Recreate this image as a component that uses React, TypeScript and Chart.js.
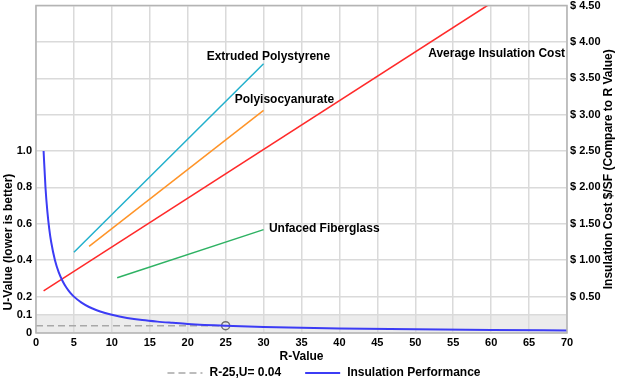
import React, { useEffect, useRef } from "react";
import { Chart, registerables } from "chart.js";

Chart.register(...registerables);

// ---------- data ----------
const perfR = [1, 1.25, 1.5, 1.75, 2, 2.5, 3, 3.5, 4, 4.5, 5, 6, 7, 8, 9, 10, 12, 14, 16, 18, 20, 25, 30, 35, 40, 50, 60, 70];
const perfU = [1.0, 0.8, 0.667, 0.571, 0.5, 0.4, 0.333, 0.286, 0.25, 0.222, 0.2, 0.167, 0.143, 0.125, 0.111, 0.1, 0.083, 0.071, 0.0625, 0.056, 0.05, 0.04, 0.033, 0.029, 0.025, 0.02, 0.0167, 0.0143];

const refR = [0, 25];
const refU = [0.04, 0.04];

const avgR = [1, 59.5];
const avgCost = [0.58, 4.5];

const xpsR = [5, 30];
const xpsCost = [1.11, 3.7];

const isoR = [7, 30];
const isoCost = [1.19, 3.06];

const fgR = [10.7, 30];
const fgCost = [0.76, 1.42];

const xTickStep = 5;
const xMin = 0;
const xMax = 70;

const uLabelTicks = [0, 0.1, 0.2, 0.4, 0.6, 0.8, 1.0];
const uGridOnlyTicks = [1.2, 1.4, 1.6, 1.8];
const uMax = 1.8;

const costTicks = [0.5, 1.0, 1.5, 2.0, 2.5, 3.0, 3.5, 4.0, 4.5];
const costMax = 4.5;

const bandU = [0, 0.1];

const names = {
  perf: "Insulation Performance",
  ref: "R-25,U= 0.04",
  avg: "Average Insulation Cost",
  xps: "Extruded Polystyrene",
  iso: "Polyisocyanurate",
  fg: "Unfaced Fiberglass",
};

const xTitle = "R-Value";
const yLeftTitle = "U-Value (lower is better)";
const yRightTitle = "Insulation Cost $/SF (Compare to R Value)";

// annotation anchors in data units (R, cost)
const annotationR = [22.5, 26.2, 51.7, 30.7];
const annotationCost = [3.8, 3.2, 3.84, 1.44];
const annotationText = [names.xps, names.iso, names.avg, names.fg];

// ---------- styles ----------
const FONT = '"Liberation Sans", Arial, sans-serif';
const BOLD12 = { family: FONT, size: 12, weight: "bold" as const };
const BOLD11 = { family: FONT, size: 11, weight: "bold" as const };
const GRID = "#dadada";

const zip = (xs: number[], ys: number[]) => xs.map((x, i) => ({ x, y: ys[i] }));

const overlayPlugin = {
  id: "overlay",
  beforeDraw(chart: any) {
    const { ctx, chartArea, scales } = chart;
    ctx.save();
    ctx.fillStyle = "#ffffff";
    ctx.fillRect(0, 0, chart.width, chart.height);
    const yTop = scales.y.getPixelForValue(bandU[1]);
    const yBot = scales.y.getPixelForValue(bandU[0]);
    ctx.fillStyle = "#ececec";
    ctx.fillRect(chartArea.left, yTop, chartArea.right - chartArea.left, yBot - yTop);
    ctx.restore();
  },
  afterDatasetsDraw(chart: any) {
    const { ctx, chartArea, scales } = chart;
    ctx.save();
    ctx.strokeStyle = "#b4b4b4";
    ctx.lineWidth = 1.5;
    ctx.strokeRect(chartArea.left, chartArea.top, chartArea.right - chartArea.left, chartArea.bottom - chartArea.top);
    ctx.fillStyle = "#000";
    ctx.font = `bold 12px ${FONT}`;
    ctx.textAlign = "left";
    ctx.textBaseline = "middle";
    annotationText.forEach((t, i) => {
      ctx.fillText(t, scales.x.getPixelForValue(annotationR[i]), scales.y1.getPixelForValue(annotationCost[i]));
    });
    ctx.restore();
  },
  afterDraw(chart: any) {
    const { ctx, chartArea, scales } = chart;
    ctx.save();
    ctx.fillStyle = "#000";
    ctx.font = `bold 12px ${FONT}`;
    ctx.textAlign = "center";
    ctx.textBaseline = "middle";
    // left title
    ctx.save();
    ctx.translate(9, scales.y.getPixelForValue(0.5));
    ctx.rotate(-Math.PI / 2);
    ctx.fillText(yLeftTitle, 0, 0);
    ctx.restore();
    // right title
    ctx.save();
    ctx.translate(chart.width - 11, (chartArea.top + chartArea.bottom) / 2);
    ctx.rotate(-Math.PI / 2);
    ctx.fillText(yRightTitle, 0, 0);
    ctx.restore();

    // legend
    const items = [chart.data.datasets[1], chart.data.datasets[0]];
    const sampleW = 35;
    const gap = 7;
    const itemGap = 24;
    const widths = items.map((d: any) => sampleW + gap + ctx.measureText(d.label).width);
    const total = widths.reduce((a: number, b: number) => a + b, 0) + itemGap * (items.length - 1);
    let x = chart.width / 2 + 14 - total / 2;
    const y = chart.height - 14;
    ctx.textAlign = "left";
    items.forEach((d: any, i: number) => {
      ctx.save();
      ctx.strokeStyle = d.borderColor;
      ctx.lineWidth = d.borderWidth;
      ctx.setLineDash(d.borderDash || []);
      ctx.beginPath();
      ctx.moveTo(x, y);
      ctx.lineTo(x + sampleW, y);
      ctx.stroke();
      ctx.restore();
      ctx.fillText(d.label, x + sampleW + gap, y);
      x += widths[i] + itemGap;
    });
    ctx.restore();
  },
};

export default function App() {
  const ref = useRef<HTMLCanvasElement | null>(null);

  useEffect(() => {
    document.body.style.margin = "0";
    document.body.style.overflow = "hidden";
    const canvas = ref.current!;
    const chart = new Chart(canvas, {
      type: "line",
      data: {
        datasets: [
          {
            label: names.perf,
            data: zip(perfR, perfU),
            yAxisID: "y",
            borderColor: "#3c3cf5",
            borderWidth: 2,
            pointRadius: 0,
            cubicInterpolationMode: "monotone",
            fill: false,
          },
          {
            label: names.ref,
            data: zip(refR, refU),
            yAxisID: "y",
            borderColor: "#a8a8a8",
            borderWidth: 1.5,
            borderDash: [7, 4],
            pointRadius: [0, 4],
            pointBorderColor: "#707070",
            pointBackgroundColor: "rgba(255,255,255,0.2)",
            pointBorderWidth: 1.5,
            fill: false,
          },
          {
            label: names.avg,
            data: zip(avgR, avgCost),
            yAxisID: "y1",
            borderColor: "#ff2a2a",
            borderWidth: 1.5,
            pointRadius: 0,
            fill: false,
          },
          {
            label: names.xps,
            data: zip(xpsR, xpsCost),
            yAxisID: "y1",
            borderColor: "#22b0cc",
            borderWidth: 1.5,
            pointRadius: 0,
            fill: false,
          },
          {
            label: names.iso,
            data: zip(isoR, isoCost),
            yAxisID: "y1",
            borderColor: "#ff9428",
            borderWidth: 1.5,
            pointRadius: 0,
            fill: false,
          },
          {
            label: names.fg,
            data: zip(fgR, fgCost),
            yAxisID: "y1",
            borderColor: "#2eb263",
            borderWidth: 1.5,
            pointRadius: 0,
            fill: false,
          },
        ] as any,
      },
      options: {
        animation: false,
        responsive: false,
        devicePixelRatio: 1,
        layout: { padding: { top: 5, bottom: 23, left: 0, right: 0 } },
        plugins: {
          legend: { display: false },
          tooltip: { enabled: false },
        },
        scales: {
          x: {
            type: "linear",
            min: xMin,
            max: xMax,
            border: { display: false },
            grid: { color: GRID, lineWidth: 1.5, drawTicks: false },
            ticks: {
              stepSize: xTickStep,
              autoSkip: false,
              maxRotation: 0,
              padding: 3,
              color: "#000",
              font: BOLD11,
            },
            title: {
              display: true,
              text: xTitle,
              color: "#000",
              font: BOLD12,
              padding: { top: 0, bottom: 0 },
            },
            afterFit: (s: any) => {
              s.height = 31;
              s.paddingLeft = 0;
              s.paddingRight = 0;
            },
          },
          y: {
            type: "linear",
            position: "left",
            min: 0,
            max: uMax,
            border: { display: false },
            grid: { color: GRID, lineWidth: 1.5, drawTicks: false },
            afterBuildTicks: (s: any) => {
              s.ticks = [...uLabelTicks, ...uGridOnlyTicks].map((v) => ({ value: v }));
            },
            ticks: {
              autoSkip: false,
              padding: 4,
              color: "#000",
              font: BOLD11,
              callback: (v: any) => {
                const n = Number(v);
                if (!uLabelTicks.includes(n)) return "";
                return n === 0 ? "0" : n.toFixed(1);
              },
            },
            afterFit: (s: any) => {
              s.width = 36;
              s.paddingTop = 0;
              s.paddingBottom = 0;
            },
          },
          y1: {
            type: "linear",
            position: "right",
            min: 0,
            max: costMax,
            border: { display: false },
            grid: { display: false, drawTicks: false },
            afterBuildTicks: (s: any) => {
              s.ticks = costTicks.map((v) => ({ value: v }));
            },
            ticks: {
              autoSkip: false,
              padding: 3,
              color: "#000",
              font: BOLD11,
              callback: (v: any) => "$ " + Number(v).toFixed(2),
            },
            afterFit: (s: any) => {
              s.width = 53;
              s.paddingTop = 0;
              s.paddingBottom = 0;
            },
          },
        },
      } as any,
      plugins: [overlayPlugin],
    });
    return () => chart.destroy();
  }, []);

  return <canvas ref={ref} width={620} height={387} style={{ display: "block" }} />;
}
